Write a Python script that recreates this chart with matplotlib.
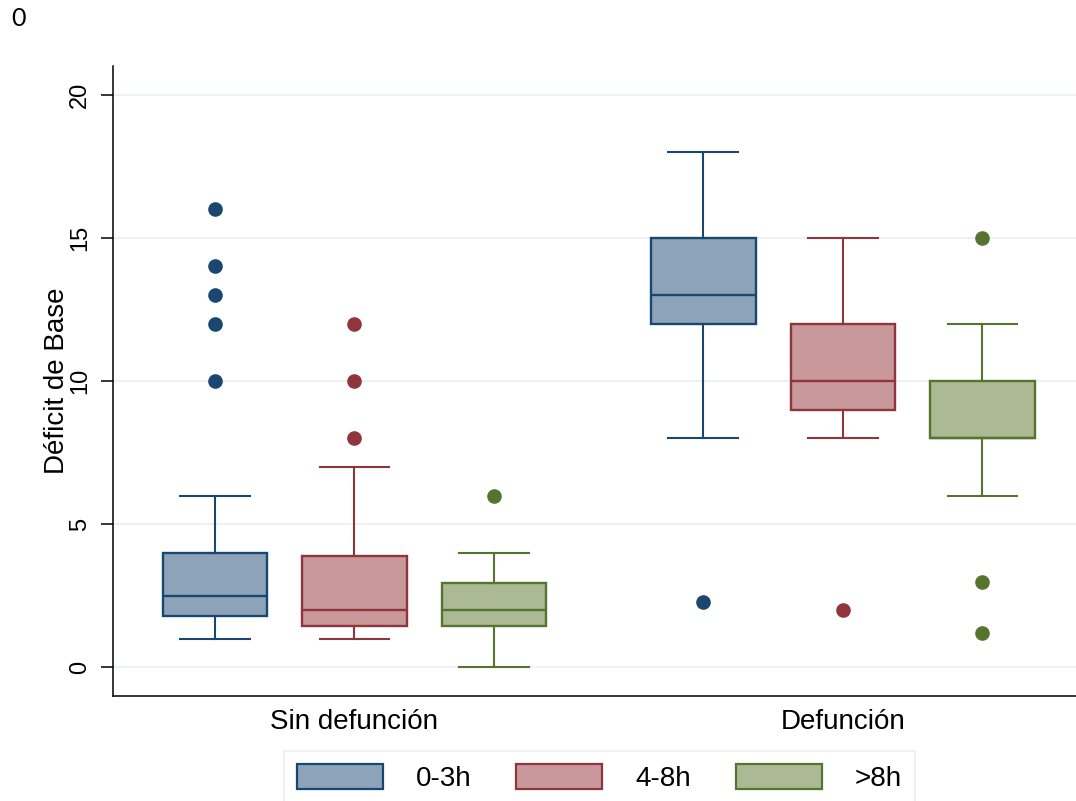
import matplotlib.pyplot as plt
from matplotlib.patches import Patch

# grupos en el eje x y series (tiempo hasta la cirugia)
grupos = ["Sin defunción", "Defunción"]
series = ["0-3h", "4-8h", ">8h"]

# estadisticos por serie: [Sin defuncion, Defuncion]
medianas = [[2.5, 13], [2, 10], [2, 8]]
q1 = [[1.8, 12], [1.45, 9], [1.45, 8]]
q3 = [[4, 15], [3.9, 12], [2.95, 10]]
bigote_inf = [[1, 8], [1, 8], [0, 6]]
bigote_sup = [[6, 18], [7, 15], [4, 12]]
atipicos = [
    [[16, 14, 13, 12, 10], [2.3]],
    [[12, 10, 8], [2]],
    [[6], [15, 3, 1.2]],
]

bordes = ["#1a476f", "#90353b", "#55752f"]
rellenos = ["#8ca3b8", "#c8989b", "#abb994"]

plt.rcParams['font.family'] = ['Liberation Sans', 'DejaVu Sans']

fig = plt.figure(figsize=(10.76, 8.01), dpi=100)
ax = fig.add_axes([0.105, 0.131, 0.895, 0.7866])

centros = [1, 4.5]
desplaz = [-1, 0, 1]

for i, s in enumerate(series):
    stats = []
    for g in range(len(grupos)):
        stats.append({
            "med": medianas[i][g], "q1": q1[i][g], "q3": q3[i][g],
            "whislo": bigote_inf[i][g], "whishi": bigote_sup[i][g],
            "fliers": atipicos[i][g],
        })
    pos = [c + desplaz[i] for c in centros]
    c = bordes[i]
    ax.bxp(stats, positions=pos, widths=0.75, capwidths=0.5,
           patch_artist=True, manage_ticks=False,
           boxprops=dict(facecolor=rellenos[i], edgecolor=c, linewidth=1.7),
           medianprops=dict(color=c, linewidth=1.7),
           whiskerprops=dict(color=c, linewidth=1.5),
           capprops=dict(color=c, linewidth=1.5),
           flierprops=dict(marker='o', markerfacecolor=c, markeredgecolor=c,
                           markersize=9.5, linestyle='none'))

ax.set_xlim(-0.73, 6.17)
ax.set_ylim(-1, 21)
ax.set_yticks([0, 5, 10, 15, 20])
ax.set_yticklabels(["0", "5", "10", "15", "20"], fontsize=17,
                   rotation=90, va='center')
ax.tick_params(axis='y', length=9, width=1.1, pad=7)
ax.set_xticks(centros)
ax.set_xticklabels(grupos, fontsize=20)
ax.tick_params(axis='x', length=0, pad=9)

ax.grid(axis='y', color='#eaf2f3', linewidth=1.5)
ax.set_axisbelow(True)
for lado in ['top', 'right']:
    ax.spines[lado].set_visible(False)
for lado in ['left', 'bottom']:
    ax.spines[lado].set_linewidth(1.1)

ax.set_ylabel("Déficit de Base", fontsize=20)
ax.yaxis.set_label_coords(-0.045, 0.5)

manejadores = [Patch(facecolor=rellenos[i], edgecolor=bordes[i], linewidth=1.6)
               for i in range(len(series))]
leg = fig.legend(manejadores, series, loc='upper center',
                 bbox_to_anchor=(0.557, 0.0624), ncol=3, fontsize=20,
                 frameon=True, fancybox=False, handlelength=3.1,
                 handleheight=1.05, handletextpad=1.2, columnspacing=1.6,
                 borderpad=0.45, borderaxespad=0)
leg.get_frame().set_edgecolor('#e3ecee')
leg.get_frame().set_linewidth(1.2)

fig.text(0.017, 0.977, "0", fontsize=18, family=['Lato', 'DejaVu Sans'],
         ha='center', va='center')

fig.savefig("out.png", dpi=100)
